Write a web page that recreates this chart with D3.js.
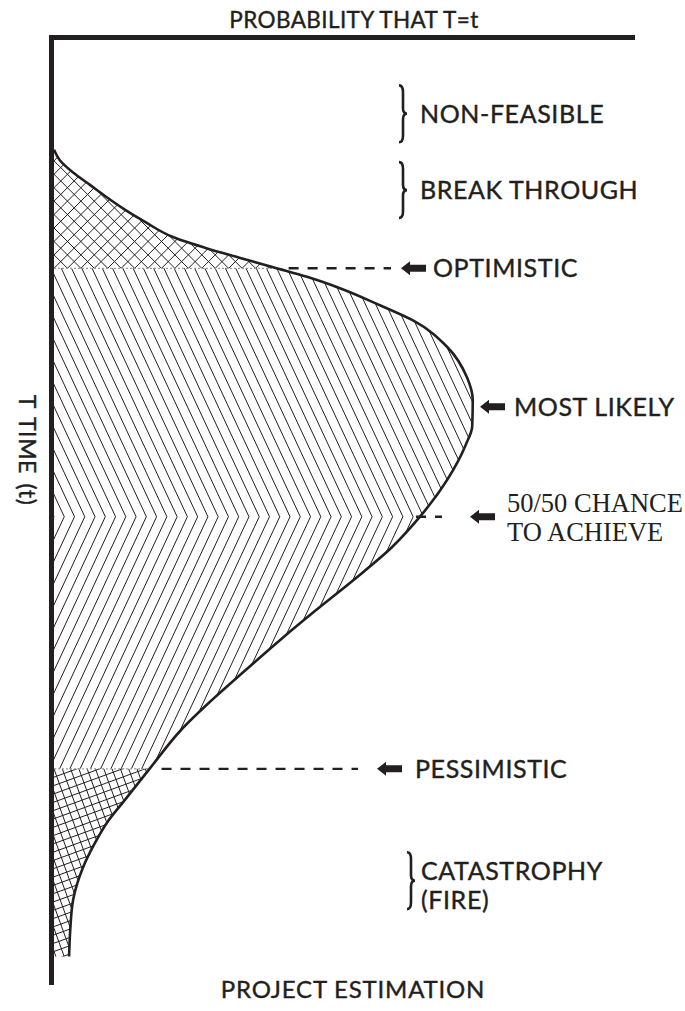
<!DOCTYPE html>
<html>
<head>
<meta charset="utf-8">
<script src="https://cdn.jsdelivr.net/npm/d3@7"></script>
<style>
  body { margin: 0; background: #fff; }
  svg { display: block; }
</style>
</head>
<body>
<div id="chart"></div>
<script>
// time runs top -> bottom (0..100), probability runs left -> right (0..100)
const curveTime = [11.9, 13.0, 14.3, 15.6, 16.9, 18.2, 19.5, 21.1, 22.3, 23.3, 24.3, 25.3, 26.5, 28.3, 29.9, 32.7, 35.9, 38.3, 41.1, 43.0, 46.7, 50.6, 53.8, 57.3, 60.4, 63.6, 66.8, 69.9, 73.1, 77.1, 80.5, 82.9, 85.2, 87.6, 91.0, 94.2, 97.0];
const curveProb = [0, 1.0, 3.3, 6.2, 9.1, 12.2, 15.7, 20.5, 26.4, 32.1, 37.8, 43.6, 49.3, 56.2, 61.9, 67.8, 71.2, 72.2, 72.1, 71.0, 67.8, 63.1, 58.3, 51.6, 45.3, 39.0, 33.0, 27.3, 21.9, 16.6, 12.2, 9.1, 6.9, 5.0, 3.3, 2.8, 2.6];

// estimate markers
const markerLabels = [["OPTIMISTIC"], ["MOST LIKELY"], ["50/50 CHANCE", "TO ACHIEVE"], ["PESSIMISTIC"]];
const markerTimes = [24.4, 39.0, 50.6, 77.2];

// bracketed zones
const zoneLabels = [["NON-FEASIBLE"], ["BREAK THROUGH"], ["CATASTROPHY", "(FIRE)"]];
const zoneStart = [5.1, 13.2, 86.0];
const zoneEnd = [11.1, 19.1, 92.0];

const axisTitles = ["PROBABILITY THAT T=t", "T TIME (t)", "PROJECT ESTIMATION"];

const W = 685, H = 1011;
const ink = "#231f20";
const sans = "Lato, 'Open Sans', sans-serif";

const svg = d3.select("#chart").append("svg")
    .attr("width", W)
    .attr("height", H)
    .attr("viewBox", "0 0 " + W + " " + H);

const tScale = d3.scaleLinear().domain([0, 100]).range([37, 985]);
const pScale = d3.scaleLinear().domain([0, 100]).range([54, 634]);

const curve = curveTime.map((t, i) => ({t: t, p: curveProb[i]}));

// x of the curve at a given time (linear between the read points)
function curveX(t) {
    for (let i = 1; i < curve.length; i++) {
        if (t <= curve[i].t) {
            const a = curve[i - 1], b = curve[i];
            return pScale(a.p + (b.p - a.p) * (t - a.t) / (b.t - a.t));
        }
    }
    return pScale(curve[curve.length - 1].p);
}

const area = d3.area()
    .curve(d3.curveMonotoneY)
    .y(d => tScale(d.t))
    .x0(pScale(0))
    .x1(d => pScale(d.p));

const line = d3.line()
    .curve(d3.curveMonotoneY)
    .x(d => pScale(d.p))
    .y(d => tScale(d.t));

const defs = svg.append("defs");
defs.append("clipPath").attr("id", "area-clip")
    .append("path").attr("d", area(curve));

// bands between the estimate markers; a = line angle, d = gap between lines
const tStart = curveTime[0], tEnd = curveTime[curveTime.length - 1];
const bands = [
    {from: tStart, to: markerTimes[0], families: [{a: 45, d: 9.5}, {a: -45, d: 9.5}], anchor: markerTimes[0]},
    {from: markerTimes[0], to: markerTimes[2], families: [{a: 65, d: 9.3}], anchor: markerTimes[2]},
    {from: markerTimes[2], to: markerTimes[3], families: [{a: -65, d: 9.3}], anchor: markerTimes[2]},
    {from: markerTimes[3], to: tEnd + 1, families: [{a: -20, d: 7.8}, {a: 70, d: 7.8}], anchor: markerTimes[3]}
];

bands.forEach((b, i) => {
    const y0 = tScale(b.from), y1 = tScale(b.to);
    defs.append("clipPath").attr("id", "band-" + i)
        .append("rect")
        .attr("x", 0).attr("y", y0)
        .attr("width", W).attr("height", y1 - y0);
    const g = svg.append("g").attr("clip-path", "url(#band-" + i + ")")
        .append("g").attr("clip-path", "url(#area-clip)");
    const ax = pScale(0), ay = tScale(b.anchor);
    b.families.forEach(f => {
        const rad = f.a * Math.PI / 180;
        const dx = Math.cos(rad), dy = Math.sin(rad);
        const nx = -dy, ny = dx;
        const L = 1200;
        g.selectAll(null)
            .data(d3.range(-140, 140))
            .enter()
            .append("line")
            .attr("x1", k => ax + k * f.d * nx - L * dx)
            .attr("y1", k => ay + k * f.d * ny - L * dy)
            .attr("x2", k => ax + k * f.d * nx + L * dx)
            .attr("y2", k => ay + k * f.d * ny + L * dy)
            .attr("stroke", ink)
            .attr("stroke-width", 1);
    });
});

// faint dotted band borders inside the shape
[markerTimes[0], markerTimes[3]].forEach(t => {
    svg.append("line")
        .attr("x1", pScale(0)).attr("x2", curveX(t))
        .attr("y1", tScale(t)).attr("y2", tScale(t))
        .attr("stroke", "#9a9a9a")
        .attr("stroke-width", 1.2)
        .attr("stroke-dasharray", "2,2");
});

// curve outline
svg.append("path")
    .attr("d", line(curve))
    .attr("fill", "none")
    .attr("stroke", ink)
    .attr("stroke-width", 2.6);

// axes
svg.append("path")
    .attr("d", "M51.5," + tScale(100) + "V37.5H635")
    .attr("fill", "none")
    .attr("stroke", ink)
    .attr("stroke-width", 5);

function label(sel, size, spacing) {
    return sel.attr("fill", ink)
        .attr("stroke", ink)
        .attr("stroke-width", 0.4)
        .attr("font-family", sans)
        .attr("font-size", size)
        .attr("letter-spacing", spacing);
}

// markers: dashes, arrows, labels
const arrowTip = [401, 480, 470, 377];
const dashEnd = [391, null, 442, 358];
const labelX = [433, 514, 507, 415];

markerTimes.forEach((t, i) => {
    const y = tScale(t);
    if (dashEnd[i]) {
        svg.append("line")
            .attr("x1", curveX(t) + (i === 2 ? -4 : 12))
            .attr("x2", dashEnd[i])
            .attr("y1", y).attr("y2", y)
            .attr("stroke", ink)
            .attr("stroke-width", 2.4)
            .attr("stroke-dasharray", "10,9");
    }
    const x = arrowTip[i];
    svg.append("path")
        .attr("d", "M" + x + "," + y + "l9,-7v3.5h16v7h-16v3.5z")
        .attr("fill", ink);
    const serif = i === 2;
    const lines = markerLabels[i];
    let txt;
    if (serif) {
        txt = svg.append("text")
            .attr("x", labelX[i])
            .attr("y", y - 5)
            .attr("fill", ink)
            .attr("font-family", "'Liberation Serif', 'Times New Roman', serif")
            .attr("font-size", 26.5);
    } else {
        txt = label(svg.append("text").attr("x", labelX[i]).attr("y", y + 9), 25, 0.6);
    }
    lines.forEach((s, j) => {
        txt.append("tspan").attr("x", labelX[i]).attr("dy", j === 0 ? 0 : 29).text(s);
    });
});

// braces with zone labels
const braceX = [399, 399, 407];
zoneLabels.forEach((lab, i) => {
    const y0 = tScale(zoneStart[i]), y1 = tScale(zoneEnd[i]);
    const h = y1 - y0, m = (y0 + y1) / 2, bx = braceX[i], w = 5;
    const p = d3.path();
    p.moveTo(bx, y0);
    p.quadraticCurveTo(bx + w * 0.8, y0, bx + w * 0.8, y0 + h * 0.12);
    p.lineTo(bx + w * 0.8, m - h * 0.1);
    p.quadraticCurveTo(bx + w * 0.8, m, bx + w * 1.6, m);
    p.quadraticCurveTo(bx + w * 0.8, m, bx + w * 0.8, m + h * 0.1);
    p.lineTo(bx + w * 0.8, y1 - h * 0.12);
    p.quadraticCurveTo(bx + w * 0.8, y1, bx, y1);
    svg.append("path")
        .attr("d", p.toString())
        .attr("fill", "none")
        .attr("stroke", ink)
        .attr("stroke-width", 2.6);
    const tx = bx + (lab.length > 1 ? 14 : 21);
    const txt = label(svg.append("text")
        .attr("x", tx)
        .attr("y", lab.length > 1 ? y0 + 28 : m + 9), 25, 0.6);
    lab.forEach((s, j) => {
        txt.append("tspan").attr("x", tx).attr("dy", j === 0 ? 0 : 29).text(s);
    });
});

// axis titles
label(svg.append("text")
    .attr("x", 354).attr("y", 28)
    .attr("text-anchor", "middle"), 22.5, 0.4)
    .text(axisTitles[0]);

label(svg.append("text")
    .attr("transform", "translate(19,450) rotate(90)")
    .attr("text-anchor", "middle"), 23, 0.6)
    .attr("word-spacing", 3)
    .text(axisTitles[1]);

label(svg.append("text")
    .attr("x", 353).attr("y", 998)
    .attr("text-anchor", "middle"), 24, 0.8)
    .text(axisTitles[2]);
</script>
</body>
</html>
